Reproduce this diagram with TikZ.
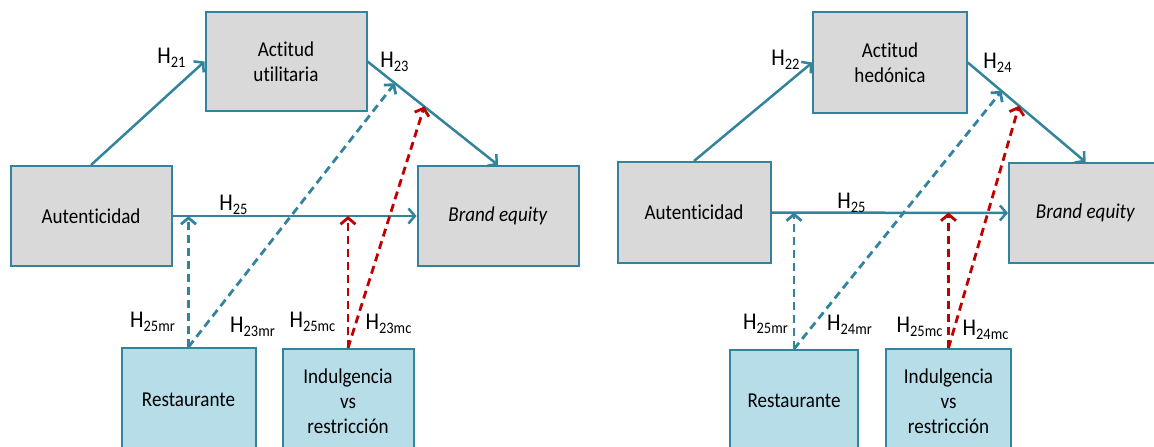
\documentclass[tikz,border=0pt]{standalone}
\usepackage{fontspec}
\setmainfont{Carlito}[FakeStretch=0.9, Ligatures=NoCommon]
\usetikzlibrary{calc,arrows.meta}
\definecolor{pathblue}{HTML}{31849B}
\definecolor{boxgray}{HTML}{D9D9D9}
\definecolor{modblue}{HTML}{B7DDE8}
\definecolor{modred}{HTML}{C00000}
\newcommand{\Hsub}[1]{H\textsubscript{#1}}

\begin{document}
\begin{tikzpicture}[x=0.5pt, y=-0.5pt,
	construct/.style = {draw=pathblue, line width=1pt, fill=boxgray, inner sep=0pt, align=center, font=\fontsize{10.6}{12.5}\selectfont},
	moderator/.style = {construct, fill=modblue},
	effect/.style = {draw=pathblue, line width=1.25pt, -{Straight Barb[length=3.2pt,width=7.5pt]}},
	mr/.style = {effect, line width=1.4pt, dash pattern=on 4pt off 2.5pt},
	mc/.style = {mr, draw=modred},
	hyp/.style = {font=\fontsize{12}{14}\selectfont, inner sep=0pt}]
	\useasboundingbox (0,0) rectangle (1154,446);
	\clip (0,0) rectangle (1154,446);

	% utilitaria
	\node[construct, minimum width=80.5pt, minimum height=49.5pt] (utl) at (286,61.5) {Actitud\\utilitaria};
	\node[construct, minimum width=80.5pt, minimum height=50pt] (autl) at (91,216) {Autenticidad};
	\node[construct, minimum width=80.5pt, minimum height=50pt] (bel) at (498,216) {\textit{Brand equity}};
	\node[moderator, minimum width=67pt, minimum height=52pt] (resl) at (188.5,400) {Restaurante};
	\node[moderator, minimum width=65.5pt, minimum height=52pt] (indl) at (348,401) {Indulgencia\\vs\\restricción};
	\coordinate (mrl) at ($(utl.east)!0.21!(bel.north)$);
	\coordinate (mcl) at ($(utl.east)!0.435!(bel.north)$);
	\draw[effect] (autl.north) -- (utl.west);
	\draw[effect] (utl.east) -- (bel.north);
	\draw[effect] (autl.east) -- (bel.west);
	\draw[mr] (resl.north) -- (resl.north |- autl.east);
	\draw[mr] (resl.north) -- (mrl);
	\draw[mc] (indl.north) -- (indl.north |- autl.east);
	\draw[mc] (indl.north) -- (mcl);
	\node[hyp] (h21) at (172,58) {\Hsub{21}};
	\node[hyp] (h23) at (395,62) {\Hsub{23}};
	\node[hyp] (h25l) at (234,205) {\Hsub{25}};
	\node[hyp] (h25mrl) at (153,322) {\Hsub{25mr}};
	\node[hyp] (h23mr) at (253,327) {\Hsub{23mr}};
	\node[hyp] (h25mcl) at (313,322) {\Hsub{25mc}};
	\node[hyp] (h23mc) at (389,324) {\Hsub{23mc}};

	% hedonica
	\node[construct, minimum width=76.75pt, minimum height=50.5pt] (utr) at (890,62.5) {Actitud\\hedónica};
	\node[construct, minimum width=76.5pt, minimum height=50.5pt] (autr) at (694,212.5) {Autenticidad};
	\node[construct, minimum width=76.5pt, minimum height=50pt] (ber) at (1085.5,213) {\textit{Brand equity}};
	\node[moderator, minimum width=64pt, minimum height=51pt] (resr) at (794,401) {Restaurante};
	\node[moderator, minimum width=62.5pt, minimum height=52pt] (indr) at (948.5,401) {Indulgencia\\vs\\restricción};
	\coordinate (mrr) at ($(utr.east)!0.287!(ber.north)$);
	\coordinate (mcr) at ($(utr.east)!0.435!(ber.north)$);
	\draw[effect] (autr.north) -- (utr.west);
	\draw[effect] (utr.east) -- (ber.north);
	\draw[effect] (autr.east) -- (ber.west);
	\draw[mr] (resr.north) -- (resr.north |- autr.east);
	\draw[mr] (resr.north) -- (mrr);
	\draw[mc] (indr.north) -- (indr.north |- autr.east);
	\draw[mc] (indr.north) -- (mcr);
	\node[hyp] (h22) at (786,60) {\Hsub{22}};
	\node[hyp] (h24) at (998,63) {\Hsub{24}};
	\node[hyp] (h25r) at (852,203) {\Hsub{25}};
	\node[hyp] (h25mrr) at (766,324) {\Hsub{25mr}};
	\node[hyp] (h24mr) at (850,325) {\Hsub{24mr}};
	\node[hyp] (h25mcr) at (920,327) {\Hsub{25mc}};
	\node[hyp] (h24mc) at (986,330) {\Hsub{24mc}};
\end{tikzpicture}
\end{document}
